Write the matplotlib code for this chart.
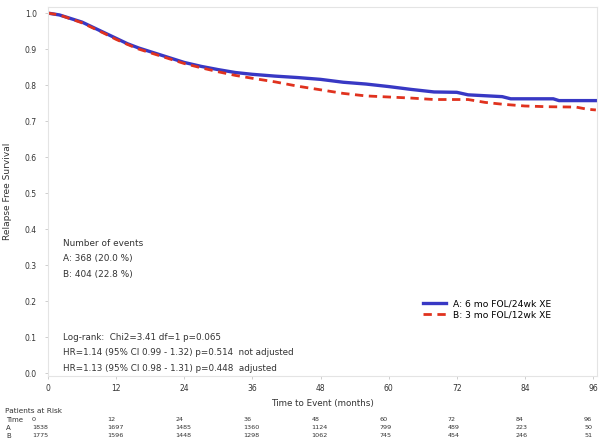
import matplotlib
matplotlib.use("Agg")
import matplotlib.pyplot as plt
from matplotlib import transforms

# Kaplan-Meier curves
TIME_A = [0, 2, 4, 6, 8, 10, 12, 14, 16, 18, 20, 22, 24, 27, 30, 33, 36, 40,
          44, 48, 52, 56, 60, 64, 68, 72, 74, 80, 81.5, 89, 90, 96.5]
SURV_A = [1.0, 0.995, 0.985, 0.975, 0.96, 0.945, 0.93, 0.915, 0.903, 0.893,
          0.883, 0.873, 0.863, 0.852, 0.843, 0.835, 0.83, 0.825, 0.821, 0.816,
          0.808, 0.803, 0.796, 0.788, 0.781, 0.78, 0.773, 0.768, 0.762, 0.762,
          0.757, 0.757]

TIME_B = [0, 2, 4, 6, 8, 10, 12, 14, 16, 18, 20, 22, 24, 27, 30, 33, 36, 40,
          44, 48, 52, 56, 60, 64, 68, 74, 77, 80, 84, 88, 93, 95, 96.5]
SURV_B = [1.0, 0.995, 0.984, 0.973, 0.958, 0.943, 0.927, 0.913, 0.9, 0.89,
          0.88, 0.87, 0.86, 0.848, 0.837, 0.827, 0.819, 0.809, 0.797, 0.787,
          0.777, 0.77, 0.767, 0.764, 0.76, 0.76, 0.752, 0.747, 0.742, 0.74,
          0.739, 0.733, 0.731]

LABEL_A = "A: 6 mo FOL/24wk XE"
LABEL_B = "B: 3 mo FOL/12wk XE"

X_TICKS = [0, 12, 24, 36, 48, 60, 72, 84, 96]
Y_TICKS = [0.0, 0.1, 0.2, 0.3, 0.4, 0.5, 0.6, 0.7, 0.8, 0.9, 1.0]

RISK_TIMES = [0, 12, 24, 36, 48, 60, 72, 84, 96]
RISK_A = [1838, 1697, 1485, 1360, 1124, 799, 489, 223, 50]
RISK_B = [1775, 1596, 1448, 1298, 1062, 745, 454, 246, 51]

EVENT_LINES = ["Number of events", "A: 368 (20.0 %)", "B: 404 (22.8 %)"]
STAT_LINES = [
    "Log-rank:  Chi2=3.41 df=1 p=0.065",
    "HR=1.14 (95% CI 0.99 - 1.32) p=0.514  not adjusted",
    "HR=1.13 (95% CI 0.98 - 1.31) p=0.448  adjusted",
]

W, H = 605, 445
TXT = "#333333"

plt.rcParams["font.family"] = ["DejaVu Sans"]

fig = plt.figure(figsize=(W / 100, H / 100), dpi=100)
ax = fig.add_axes([48 / W, 1 - 376 / H, 549 / W, 369 / H])

ax.plot(TIME_A, SURV_A, color="#3838c4", lw=2.4, label=LABEL_A)
ax.plot(TIME_B, SURV_B, color="#e0321e", lw=2.0, dashes=(3, 2),
        label=LABEL_B)

ax.set_xlim(0, 96.7)
ax.set_ylim(-0.008, 1.017)
ax.set_xticks(X_TICKS)
ax.set_yticks(Y_TICKS)
ax.set_yticklabels([f"{v:.1f}" for v in Y_TICKS])
ax.tick_params(labelsize=5.5, colors="#bbbbbb", labelcolor=TXT, length=2,
               width=0.5)
ax.tick_params(axis="y", pad=6)
ax.tick_params(axis="x", pad=4)
for s in ax.spines.values():
    s.set_color("#e4e4e4")
    s.set_linewidth(0.8)

ax.set_xlabel("Time to Event (months)", fontsize=6.3, color=TXT, labelpad=4)
ax.set_ylabel("Relapse Free Survival", fontsize=6.5, color=TXT, labelpad=9)

for i, line in enumerate(EVENT_LINES):
    ax.text(2.6, 0.361 - i * 0.043, line, fontsize=6.4, color=TXT,
            va="center")
for i, line in enumerate(STAT_LINES):
    ax.text(2.6, 0.1 - i * 0.044, line, fontsize=6.3, color=TXT, va="center")

ax.legend(loc="upper left", bbox_to_anchor=(0.672, 0.225), frameon=False,
          fontsize=6.6, handlelength=2.5, handletextpad=0.7, labelspacing=0.2,
          borderpad=0.2)

# risk table under the axes
trans = transforms.blended_transform_factory(ax.transData, fig.transFigure)


def ypix(p):
    return 1 - p / H


fig.text(5 / W, ypix(411), "Patients at Risk", fontsize=5.3, color=TXT,
         va="center")
for lab, yy in (("Time", 419.5), ("A", 427.5), ("B", 435.5)):
    fig.text(6 / W, ypix(yy), lab, fontsize=5, color=TXT, va="center")

for t, a, b in zip(RISK_TIMES, RISK_A, RISK_B):
    off = -16 if t == 0 else -9
    tr = transforms.offset_copy(trans, fig=fig, x=off, y=0, units="dots")
    ax.text(t, ypix(419.5), str(t), transform=tr, fontsize=4.6, color=TXT,
            va="center", ha="left")
    ax.text(t, ypix(427.5), str(a), transform=tr, fontsize=4.6, color=TXT,
            va="center", ha="left")
    ax.text(t, ypix(435.5), str(b), transform=tr, fontsize=4.6, color=TXT,
            va="center", ha="left")

fig.savefig("out.png", dpi=100)
plt.close(fig)
